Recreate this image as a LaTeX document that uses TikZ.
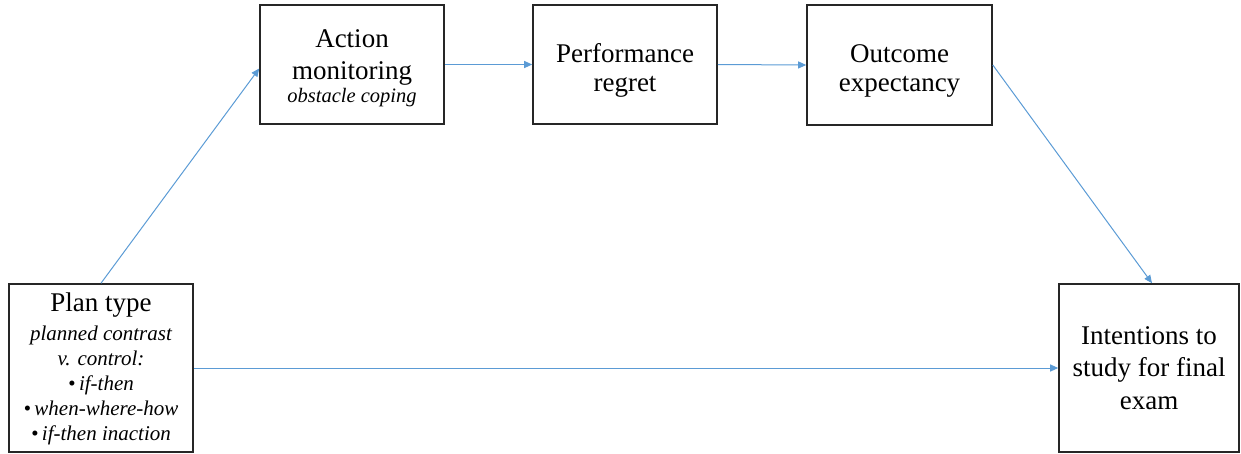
\documentclass[tikz,border=0pt]{standalone}
\usepackage{fontspec}
\setmainfont{Liberation Serif}
\usetikzlibrary{arrows.meta}
\definecolor{arrowblue}{RGB}{91,155,213}
\definecolor{boxline}{RGB}{38,38,38}
\tikzset{
  box/.style={draw=boxline, line width=1.6pt, fill=white, inner sep=0pt},
  txt/.style={inner sep=0pt, align=center},
  conn/.style={draw=arrowblue, line width=1pt, -{Triangle[length=8pt,width=7pt]}}
}
\newcommand{\planit}{\fontsize{21}{25}\selectfont\itshape}
\newcommand{\actit}{\fontsize{20.5}{22}\selectfont\itshape}
\begin{document}
\begin{tikzpicture}[x=1pt,y=-1pt]
\useasboundingbox (0,0) rectangle (1241,453);
% boxes
\node[box, minimum width=184pt, minimum height=168pt] (plan) at (101,368) {};
\node[box, minimum width=184pt, minimum height=119pt] (act) at (352,64.5) {};
\node[box, minimum width=184pt, minimum height=119pt] (perf) at (625,64.5) {};
\node[box, minimum width=185pt, minimum height=120pt] (out) at (899.5,65) {};
\node[box, minimum width=180pt, minimum height=168pt] (int) at (1149,368) {};
% texts
\node[txt, font=\fontsize{27}{32}\selectfont] (plantxt) at ([yshift=-1pt]plan.center)
  {Plan type\\[-3pt]
   {\planit planned contrast}\\[-7pt]
   {\planit v. control:}\\[-7pt]
   {\planit \textbullet\,if-then}\\[-7pt]
   {\planit \textbullet\,when-where-how}\\[-7pt]
   {\planit \textbullet\,if-then inaction}};
\node[txt, font=\fontsize{27}{32}\selectfont] (acttxt) at ([yshift=-3.5pt]act.center)
  {Action\\monitoring\\[-9pt]{\actit obstacle coping}};
\node[txt, font=\fontsize{27}{29}\selectfont] (perftxt) at ([yshift=-6pt]perf.center)
  {Performance\\regret};
\node[txt, font=\fontsize{27}{29}\selectfont] (outtxt) at ([yshift=-6pt]out.center)
  {Outcome\\expectancy};
\node[txt, font=\fontsize{27}{32.5}\selectfont] (inttxt) at (int.center)
  {Intentions to\\study for final\\exam};
% connectors
\draw[conn] (plan.north) -- ([yshift=-4pt]act.west);
\draw[conn] (act.east) -- (perf.west);
\draw[conn] (perf.east) -- (out.west);
\draw[conn] (out.east) -- ([xshift=3pt]int.north);
\draw[conn] (plan.east) -- (int.west);
\end{tikzpicture}
\end{document}
